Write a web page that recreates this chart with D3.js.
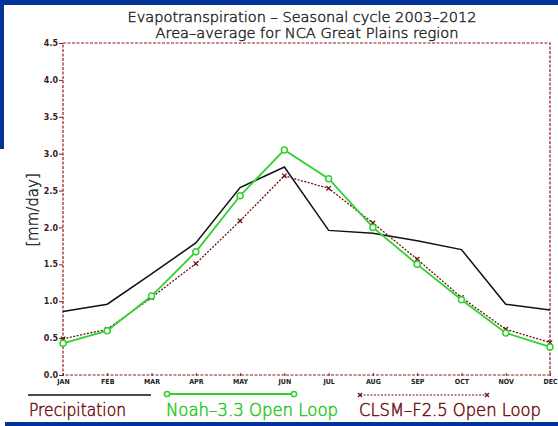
<!DOCTYPE html>
<html>
<head>
<meta charset="utf-8">
<script src="https://cdn.jsdelivr.net/npm/d3@7"></script>
<style>
  html, body { margin: 0; padding: 0; background: #fff; }
  svg { display: block; }
</style>
</head>
<body>
<svg id="chart" width="558" height="426"></svg>
<script>
// data
let months = ['JAN', 'FEB', 'MAR', 'APR', 'MAY', 'JUN', 'JUL', 'AUG', 'SEP', 'OCT', 'NOV', 'DEC'];
let precipitation = [0.86, 0.96, 1.37, 1.79, 2.54, 2.82, 1.96, 1.92, 1.82, 1.70, 0.96, 0.88];
let noah = [0.43, 0.60, 1.07, 1.67, 2.43, 3.05, 2.66, 2.00, 1.50, 1.02, 0.57, 0.38];
let clsm = [0.49, 0.62, 1.05, 1.51, 2.09, 2.70, 2.53, 2.06, 1.57, 1.05, 0.62, 0.44];
let yTicks = [0, 0.5, 1, 1.5, 2, 2.5, 3, 3.5, 4, 4.5];

let svg = d3.select('#chart');
let blue = '#013399',
    frameRed = '#8e1b1b',
    green = '#2fd12f',
    darkRed = '#701010';

// blue slide background strips
svg.append('rect').attr('x', 0).attr('y', 0).attr('width', 558).attr('height', 5).attr('fill', blue);
svg.append('rect').attr('x', 0).attr('y', 0).attr('width', 4).attr('height', 149).attr('fill', blue);
svg.append('rect').attr('x', 5).attr('y', 422).attr('width', 553).attr('height', 4).attr('fill', blue);

let plotLeft = 63, plotRight = 550, plotTop = 43, plotBottom = 375;

let x = d3.scalePoint().domain(months).range([plotLeft, plotRight]);
let y = d3.scaleLinear().domain([0, 4.5]).range([plotBottom, plotTop]);

// thin GrADS-like lettering: extra light face plus a hairline stroke
function thinText(sel, color, sw) {
  return sel
    .attr('font-family', 'DejaVu Sans')
    .attr('font-weight', 200)
    .attr('fill', color)
    .attr('stroke', color)
    .attr('stroke-width', sw);
}

// title
thinText(svg.append('text'), '#2a2a2a', 0.45)
  .attr('x', 302).attr('y', 22)
  .attr('text-anchor', 'middle')
  .attr('font-size', 14)
  .attr('textLength', 349)
  .attr('lengthAdjust', 'spacingAndGlyphs')
  .text('Evapotranspiration \u2013 Seasonal cycle 2003\u20132012');
thinText(svg.append('text'), '#2a2a2a', 0.45)
  .attr('x', 307).attr('y', 38)
  .attr('text-anchor', 'middle')
  .attr('font-size', 14)
  .attr('textLength', 303)
  .attr('lengthAdjust', 'spacingAndGlyphs')
  .text('Area\u2013average for NCA Great Plains region');

// y axis, ticks pointing out to the left
let yAxis = d3.axisLeft(y).tickValues(yTicks).tickFormat(d3.format('.1f')).tickSize(4).tickPadding(1);
let gy = svg.append('g').attr('transform', `translate(${plotLeft},0)`).call(yAxis);
gy.select('.domain').remove();
gy.selectAll('line').attr('stroke', frameRed);
gy.selectAll('text')
  .attr('font-family', 'DejaVu Sans')
  .attr('font-size', 8)
  .attr('font-weight', 'bold')
  .attr('fill', '#3a1c1c');

// x axis, month labels under the frame
let xAxis = d3.axisBottom(x).tickSize(3).tickPadding(1);
let gx = svg.append('g').attr('transform', `translate(0,${plotBottom})`).call(xAxis);
gx.select('.domain').remove();
gx.selectAll('line').attr('stroke', frameRed).attr('transform', 'translate(0,-2)');
gx.selectAll('text')
  .attr('font-family', 'DejaVu Sans Condensed')
  .attr('font-size', 7)
  .attr('font-weight', 'bold')
  .attr('fill', '#222');

// dashed frame (GrADS style)
svg.append('rect')
  .attr('x', plotLeft).attr('y', plotTop)
  .attr('width', plotRight - plotLeft).attr('height', plotBottom - plotTop)
  .attr('fill', 'none')
  .attr('stroke', frameRed)
  .attr('stroke-width', 1.2)
  .attr('stroke-dasharray', '3,1.5');

// y label
thinText(svg.append('text'), '#2a2a2a', 0.45)
  .attr('transform', 'translate(38,210) rotate(-90)')
  .attr('text-anchor', 'middle')
  .attr('font-size', 15)
  .text('[mm/day]');

let line = d3.line().x((d, i) => x(months[i])).y((d) => y(d));

//三条线
svg.append('path').datum(precipitation)
  .attr('d', line)
  .attr('fill', 'none')
  .attr('stroke', '#111')
  .attr('stroke-width', 1.5);

svg.append('path').datum(clsm)
  .attr('d', line)
  .attr('fill', 'none')
  .attr('stroke', darkRed)
  .attr('stroke-width', 1.3)
  .attr('stroke-dasharray', '2,1.5');

svg.append('path').datum(noah)
  .attr('d', line)
  .attr('fill', 'none')
  .attr('stroke', green)
  .attr('stroke-width', 1.8);

function drawCross(g, cx, cy, s, color) {
  g.append('path')
    .attr('d', `M${cx - s},${cy - s}L${cx + s},${cy + s}M${cx - s},${cy + s}L${cx + s},${cy - s}`)
    .attr('stroke', color)
    .attr('stroke-width', 1.3);
}

clsm.forEach((v, i) => drawCross(svg, x(months[i]), y(v), 2.2, darkRed));

svg.selectAll('.noah-dot').data(noah).enter().append('circle')
  .attr('class', 'noah-dot')
  .attr('cx', (d, i) => x(months[i]))
  .attr('cy', (d) => y(d))
  .attr('r', 3)
  .attr('fill', '#fff')
  .attr('stroke', green)
  .attr('stroke-width', 1.5);

// legend
let legendY = 395, textY = 416;
svg.append('line')
  .attr('x1', 28).attr('x2', 151).attr('y1', legendY).attr('y2', legendY)
  .attr('stroke', '#111').attr('stroke-width', 1.5);

svg.append('line')
  .attr('x1', 167).attr('x2', 294).attr('y1', legendY - 1).attr('y2', legendY - 1)
  .attr('stroke', green).attr('stroke-width', 1.8);
[167, 294].forEach((cx) => {
  svg.append('circle').attr('cx', cx).attr('cy', legendY - 1).attr('r', 2.6)
    .attr('fill', '#fff').attr('stroke', green).attr('stroke-width', 1.5);
});

svg.append('line')
  .attr('x1', 360).attr('x2', 487).attr('y1', legendY).attr('y2', legendY)
  .attr('stroke', darkRed).attr('stroke-width', 1).attr('stroke-dasharray', '2,1.5');
[360, 487].forEach((cx) => drawCross(svg, cx, legendY, 2, darkRed));

let legendText = [
  {label: 'Precipitation', x: 29, w: 97, color: darkRed},
  {label: 'Noah\u20133.3 Open Loop', x: 166, w: 172, color: '#22c822'},
  {label: 'CLSM\u2013F2.5 Open Loop', x: 359, w: 182, color: darkRed}
];
legendText.forEach((d) => {
  thinText(svg.append('text'), d.color, 0.5)
    .attr('x', d.x).attr('y', textY)
    .attr('font-size', 17)
    .attr('textLength', d.w)
    .attr('lengthAdjust', 'spacingAndGlyphs')
    .text(d.label);
});
</script>
</body>
</html>
